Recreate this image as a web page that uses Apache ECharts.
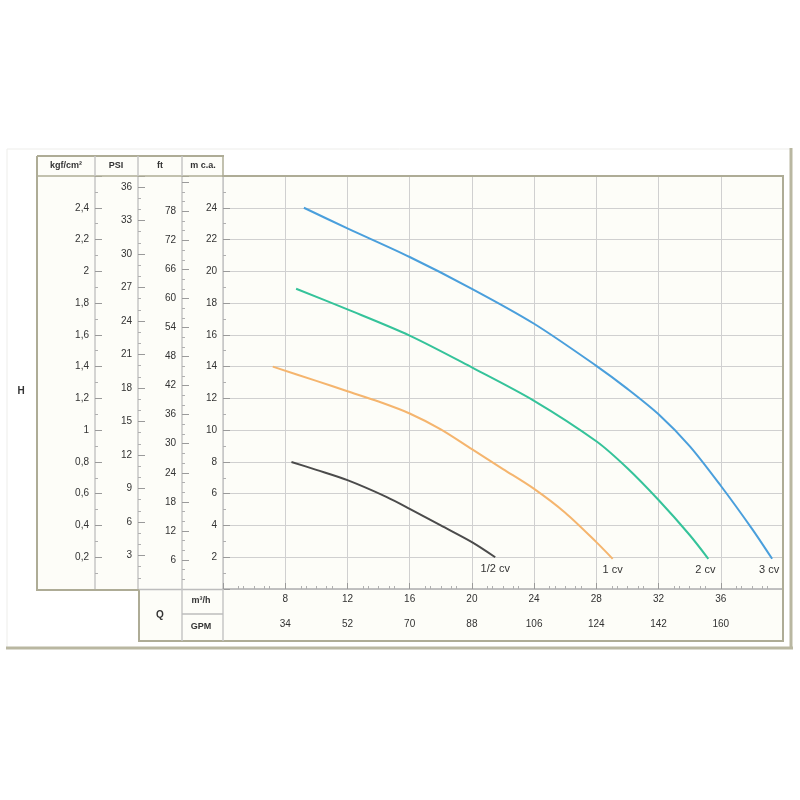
<!DOCTYPE html>
<html>
<head>
<meta charset="utf-8">
<script src="https://cdn.jsdelivr.net/npm/echarts@6/dist/echarts.min.js"></script>
<style>
html,body{margin:0;padding:0;background:#ffffff;}
#c{width:800px;height:800px;}
</style>
</head>
<body>
<div id="c"></div>
<script>
// ---- data ----
const qTicks = [8, 12, 16, 20, 24, 28, 32, 36];            // m³/h tick labels
const gpmTicks = [34, 52, 70, 88, 106, 124, 142, 160];     // GPM tick labels
const curveNames = ['1/2 cv', '1 cv', '2 cv', '3 cv'];
const q_half = [8.4, 10, 12, 14.5, 16, 18, 20, 21.5];
const h_half = [8.0, 7.5, 6.85, 5.8, 5.05, 4.0, 2.95, 2.0];
const q_1 = [7.2, 10, 12, 14, 16, 18, 20, 22, 24, 26, 28, 29.05];
const h_1 = [14.0, 13.1, 12.45, 11.8, 11.05, 10.05, 8.8, 7.55, 6.3, 4.8, 2.95, 1.9];
const q_2 = [8.7, 12, 16, 20, 24, 28, 30, 32, 34, 35.2];
const h_2 = [18.9, 17.6, 15.95, 13.95, 11.85, 9.3, 7.6, 5.6, 3.4, 1.9];
const q_3 = [9.2, 12, 16, 20, 24, 28, 30, 32, 34, 36, 38, 39.3];
const h_3 = [24.0, 22.7, 20.9, 18.9, 16.7, 14.05, 12.6, 11.0, 9.0, 6.5, 3.8, 1.9];
const curveColors = ['#4b4b4b', '#f5b56e', '#35c39a', '#4a9fdc'];
const H_MAX = 26;          // m c.a.
const M_TO_FT = 3.2808;
const M_TO_PSI = 1.4223;
const M_TO_KGF = 0.1;
const FT_LABEL_MAX = 78;

// ---- chart ----
const chart = echarts.init(document.getElementById('c'), null, {renderer: 'canvas'});
const FONT = 'Liberation Sans, Arial, sans-serif';
const labelColor = '#333333';
const axisGray = '#c6c6c6';
const olive = '#aeac96';

function yAx(max, interval, offset, split, fmt) {
  return {
    type: 'value', position: 'left', offset: offset, min: 0, max: max, interval: interval,
    axisLine: {show: true, lineStyle: {color: axisGray, width: 1.5}},
    axisTick: {show: true, inside: true, length: 7, lineStyle: {color: '#9a9a9a'}},
    minorTick: {show: true, splitNumber: split, length: 3, lineStyle: {color: '#b0b0b0'}},
    axisLabel: {show: true, showMinLabel: false, showMaxLabel: false, margin: 6,
      color: labelColor, fontSize: 10, fontFamily: FONT, formatter: fmt},
    splitLine: {show: false}
  };
}

const kgfFmt = v => {
  const r = Math.round(v * 10) / 10;
  return Number.isInteger(r) ? String(r) : r.toFixed(1).replace('.', ',');
};
const intFmt = v => String(Math.round(v));
const ftFmt = v => (v > FT_LABEL_MAX ? '' : String(Math.round(v)));

const yAxes = [
  Object.assign(yAx(H_MAX, 2, 0, 2, intFmt), {
    splitLine: {show: true, lineStyle: {color: '#d0d0d0', width: 1}}
  }),
  yAx(H_MAX * M_TO_FT, 6, 41, 3, ftFmt),
  yAx(H_MAX * M_TO_PSI, 3, 85, 3, intFmt),
  yAx(H_MAX * M_TO_KGF, 0.2, 128, 2, kgfFmt)
];

function xAx(offset, split, fmt, grid) {
  return {
    type: 'value', position: 'bottom', offset: offset, min: 4, max: 40, interval: 4,
    axisLine: {show: true, lineStyle: {color: '#bdbdbd', width: 1.5}},
    axisTick: {show: true, inside: true, length: 6, lineStyle: {color: '#9a9a9a'}},
    minorTick: {show: true, splitNumber: split, length: 3, lineStyle: {color: '#b0b0b0'}},
    axisLabel: {show: true, showMinLabel: false, showMaxLabel: false, margin: 5,
      color: labelColor, fontSize: 10, fontFamily: FONT, formatter: fmt},
    splitLine: {show: grid, lineStyle: {color: '#d0d0d0', width: 1}}
  };
}
const xAxes = [
  xAx(0, 4, v => String(Math.round(v)), true),
  xAx(25, 3, v => { const i = qTicks.indexOf(Math.round(v)); return i >= 0 ? String(gpmTicks[i]) : ''; }, false)
];

const qs = [q_half, q_1, q_2, q_3];
const hs = [h_half, h_1, h_2, h_3];
const labelDx = [0, 0, -3, -3];
const series = qs.map((q, k) => ({
  type: 'line', name: curveNames[k], xAxisIndex: 0, yAxisIndex: 0,
  smooth: 0.3, showSymbol: false, silent: true,
  lineStyle: {color: curveColors[k], width: 2},
  itemStyle: {color: curveColors[k]},
  data: q.map((v, i) => [v, hs[k][i]]),
  endLabel: {show: true, formatter: curveNames[k], color: '#333', fontSize: 11, fontFamily: FONT,
    align: 'center', verticalAlign: 'top', distance: 0, offset: [labelDx[k], 6]}
}));

function L(x1, y1, x2, y2, color, w, z) {
  return {type: 'line', z: z || 100, silent: true, shape: {x1, y1, x2, y2}, style: {stroke: color, lineWidth: w}};
}
function T(text, x, y, size, bold) {
  return {type: 'text', z: 110, silent: true, x: x, y: y,
    style: {text: text, fill: '#333', font: (bold ? 'bold ' : '') + size + 'px ' + FONT, align: 'center', verticalAlign: 'middle'}};
}
function R(x, y, w, h, fill) {
  return {type: 'rect', z: -10, silent: true, shape: {x, y, width: w, height: h}, style: {fill: fill}};
}
const cream = '#fdfdf8';
const graphics = [
  R(37, 156, 186, 434, cream), R(223, 176, 560, 414, cream), R(139, 589, 644, 52, cream),
  // outer frame
  L(7, 149, 792, 149, '#ededea', 1), L(7, 149, 7, 648, '#ededea', 1),
  L(6, 648, 793, 648, '#b9b7a1', 3), L(791, 148, 791, 649, '#b9b7a1', 3),
  // left box & header
  L(37, 156, 224, 156, olive, 2), L(37, 156, 37, 591, olive, 2), L(37, 590, 139, 590, olive, 2),
  L(37, 176, 223, 176, olive, 1.5), L(223, 156, 223, 176, olive, 1.5),
  L(95, 156, 95, 176, axisGray, 1.5), L(138, 156, 138, 176, axisGray, 1.5), L(182, 156, 182, 176, axisGray, 1.5),
  // plot border
  L(222, 176, 784, 176, olive, 2), L(783, 176, 783, 642, olive, 2),
  // Q table
  L(139, 589, 139, 642, olive, 2), L(138, 641, 784, 641, olive, 2),
  L(139, 589.5, 223, 589.5, '#bdbdbd', 1.5),
  L(182, 589, 182, 641, axisGray, 1.5), L(223, 589, 223, 641, axisGray, 1.5),
  L(182, 614, 223, 614, '#bdbdbd', 1.5),
  // texts
  T('kgf/cm²', 66, 166, 9, true), T('PSI', 116, 166, 9, true), T('ft', 160, 166, 9, true), T('m c.a.', 203, 166, 9, true),
  T('H', 21, 391, 10, true), T('Q', 160, 615, 10, true),
  T('m³/h', 201, 601, 9, true), T('GPM', 201, 627, 9, true)
];

chart.setOption({
  backgroundColor: '#ffffff',
  animation: false,
  grid: {left: 223, top: 176, right: 17, bottom: 211, containLabel: false, show: false},
  xAxis: xAxes,
  yAxis: yAxes,
  series: series,
  graphic: {elements: graphics}
});
</script>
</body>
</html>
